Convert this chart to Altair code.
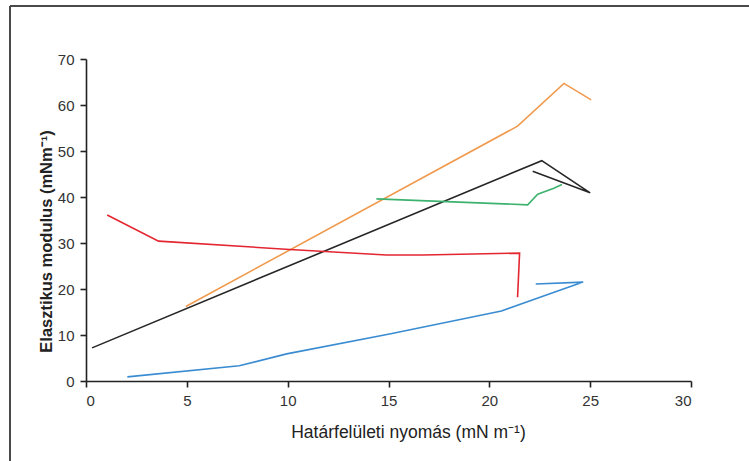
import altair as alt
import pandas as pd

# Series data, in drawing order
orange_x = [4.95, 21.4, 23.7, 25.05]
orange_y = [16.2, 55.4, 64.7, 61.1]

black_x = [0.3, 22.6, 25.0, 22.15]
black_y = [7.2, 47.9, 40.9, 45.6]

green_x = [14.4, 21.9, 22.4, 23.2, 23.6]
green_y = [39.6, 38.3, 40.6, 41.9, 42.7]

red_x = [1.05, 3.6, 10.1, 14.9, 16.7, 21.5, 21.4]
red_y = [36.1, 30.4, 28.6, 27.4, 27.4, 27.8, 18.2]

blue_x = [2.05, 7.6, 9.95, 15.05, 20.6, 21.85, 24.65, 22.3]
blue_y = [0.9, 3.3, 5.9, 10.2, 15.2, 17.2, 21.5, 21.1]

series = ["orange", "black", "green", "red", "blue"]
colors = ["#F09A4E", "#262626", "#3DB26E", "#E32630", "#3A8CD2"]

rows = []
for name, xs, ys in [
    ("orange", orange_x, orange_y),
    ("black", black_x, black_y),
    ("green", green_x, green_y),
    ("red", red_x, red_y),
    ("blue", blue_x, blue_y),
]:
    for i, (x, y) in enumerate(zip(xs, ys)):
        rows.append({"series": name, "x": x, "y": y, "order": i})
df = pd.DataFrame(rows)

FONT = "Liberation Sans, Arial"

lines = alt.Chart(df).mark_line(strokeWidth=1.6).encode(
    x=alt.X(
        "x:Q",
        scale=alt.Scale(domain=[0, 30], nice=False),
        axis=alt.Axis(
            values=[0, 5, 10, 15, 20, 25, 30],
            title="Határfelületi nyomás (mN m⁻¹)",
            titleFontWeight="normal",
            titleFontSize=17.5,
            titleX=322,
            titleY=51,
            titleAlign="center",
            titleBaseline="middle",
        ),
    ),
    y=alt.Y(
        "y:Q",
        scale=alt.Scale(domain=[0, 70], nice=False),
        axis=alt.Axis(
            values=[0, 10, 20, 30, 40, 50, 60, 70],
            title="Elasztikus modulus (mNm⁻¹)",
            titleFontWeight="bold",
            titleFontSize=16.5,
            titleX=-40,
            titleY=182,
            titleAlign="center",
            titleBaseline="middle",
            titleAngle=270,
        ),
    ),
    color=alt.Color("series:N", scale=alt.Scale(domain=series, range=colors), legend=None),
    order="order:Q",
    detail="series:N",
)

frame_top = alt.Chart(df).mark_rule(color="#4a4a4a", strokeWidth=2).encode(
    x=alt.value(-76), x2=alt.value(700), y=alt.value(-53)
)
frame_left = alt.Chart(df).mark_rule(color="#4a4a4a", strokeWidth=2).encode(
    x=alt.value(-76), y=alt.value(-53), y2=alt.value(420)
)

chart = (
    alt.layer(frame_top, frame_left, lines)
    .properties(
        width=605,
        height=322,
        padding={"left": 86, "top": 59, "right": 58, "bottom": 80},
        autosize=alt.AutoSizeParams(type="none"),
    )
    .configure_view(stroke=None)
    .configure_axis(
        grid=False,
        domainColor="#222222",
        domainWidth=1.6,
        tickColor="#222222",
        tickWidth=1.6,
        tickSize=6,
        labelFont=FONT,
        labelFontSize=15,
        labelColor="#333333",
        titleFont=FONT,
        titleColor="#222222",
        labelPadding=6,
    )
)

chart.save("out.html", embed_options={"renderer": "svg", "actions": False})
